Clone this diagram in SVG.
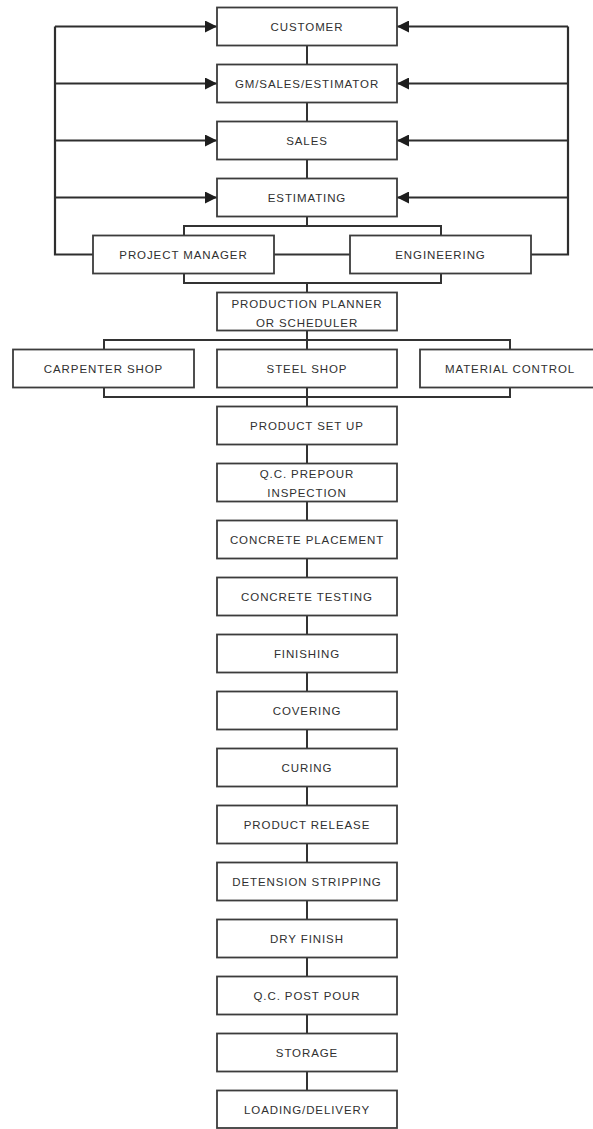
<svg xmlns="http://www.w3.org/2000/svg" width="593" height="1129" viewBox="0 0 593 1129">
  <style>
    .box { fill: #ffffff; stroke: #3c3c3c; stroke-width: 1.8; }
    .lbl { font-family: "Liberation Sans", Arial, sans-serif; font-size: 11.5px; fill: #303030; text-anchor: middle; letter-spacing: 0.9px; }
    .wire { fill: none; stroke: #333333; stroke-width: 2; }
    .feed { fill: none; stroke: #2e2e2e; stroke-width: 2.2; }
  </style>
  <defs>
    <marker id="head" viewBox="0 0 10 10" refX="10" refY="5" markerWidth="13" markerHeight="12" markerUnits="userSpaceOnUse" orient="auto">
      <path d="M0,0 L10,5 L0,10 z" fill="#1e1e1e"/>
    </marker>
  </defs>
  <rect width="593" height="1129" fill="#ffffff"/>

  <!-- connectors -->
  <g id="connectors">
    <!-- feedback loop on the left, from project manager back up the chain -->
    <path class="feed" d="M93,254.5 H55 V26.5"/>
    <path class="feed" d="M55,26.5 H217" marker-end="url(#head)"/>
    <path class="feed" d="M55,83.5 H217" marker-end="url(#head)"/>
    <path class="feed" d="M55,140.5 H217" marker-end="url(#head)"/>
    <path class="feed" d="M55,197.5 H217" marker-end="url(#head)"/>
    <!-- feedback loop on the right, from engineering -->
    <path class="feed" d="M531,254.5 H568 V26.5"/>
    <path class="feed" d="M568,26.5 H397" marker-end="url(#head)"/>
    <path class="feed" d="M568,83.5 H397" marker-end="url(#head)"/>
    <path class="feed" d="M568,140.5 H397" marker-end="url(#head)"/>
    <path class="feed" d="M568,197.5 H397" marker-end="url(#head)"/>
    <!-- project manager to engineering -->
    <path class="wire" d="M274,254.5 H350"/>
    <!-- main spine links -->
    <path class="wire" d="M307,45.5 V64.5 M307,102.5 V121.5 M307,159.5 V178.5"/>
    <!-- estimating splits to project manager / engineering -->
    <path class="wire" d="M307,216.5 V226 M184,235.5 V226 H441 V235.5"/>
    <!-- merge into production planner -->
    <path class="wire" d="M184,273.5 V283 H441 V273.5 M307,283 V292.5"/>
    <!-- production planner splits to the three shops -->
    <path class="wire" d="M307,330.5 V349.5 M104,349.5 V340 H510 V349.5"/>
    <!-- shops merge into product set up -->
    <path class="wire" d="M104,387.5 V397 H510 V387.5 M307,387.5 V406.5"/>
    <path class="wire" d="M307,444.5 V463.5 M307,501.5 V520.5 M307,558.5 V577.5 M307,615.5 V634.5 M307,672.5 V691.5 M307,729.5 V748.5 M307,786.5 V805.5 M307,843.5 V862.5 M307,900.5 V919.5 M307,957.5 V976.5 M307,1014.5 V1033.5 M307,1071.5 V1090.5"/>
  </g>

  <g id="customer"><rect class="box" x="217" y="7.5" width="180" height="38"/><text class="lbl" x="307" y="30.5">CUSTOMER</text></g>
  <g id="gm-sales-estimator"><rect class="box" x="217" y="64.5" width="180" height="38"/><text class="lbl" x="307" y="87.5">GM/SALES/ESTIMATOR</text></g>
  <g id="sales"><rect class="box" x="217" y="121.5" width="180" height="38"/><text class="lbl" x="307" y="144.5">SALES</text></g>
  <g id="estimating"><rect class="box" x="217" y="178.5" width="180" height="38"/><text class="lbl" x="307" y="201.5">ESTIMATING</text></g>
  <g id="project-manager"><rect class="box" x="93" y="235.5" width="181" height="38"/><text class="lbl" x="183.5" y="258.5">PROJECT MANAGER</text></g>
  <g id="engineering"><rect class="box" x="350" y="235.5" width="181" height="38"/><text class="lbl" x="440.5" y="258.5">ENGINEERING</text></g>
  <g id="production-planner"><rect class="box" x="217" y="292.5" width="180" height="38"/><text class="lbl" x="307" y="307.5">PRODUCTION PLANNER</text><text class="lbl" x="307" y="327">OR SCHEDULER</text></g>
  <g id="carpenter-shop"><rect class="box" x="13" y="349.5" width="181" height="38"/><text class="lbl" x="103.5" y="372.5">CARPENTER SHOP</text></g>
  <g id="steel-shop"><rect class="box" x="217" y="349.5" width="180" height="38"/><text class="lbl" x="307" y="372.5">STEEL SHOP</text></g>
  <g id="material-control"><rect class="box" x="420" y="349.5" width="180" height="38"/><text class="lbl" x="510" y="372.5">MATERIAL CONTROL</text></g>
  <g id="product-set-up"><rect class="box" x="217" y="406.5" width="180" height="38"/><text class="lbl" x="307" y="429.5">PRODUCT SET UP</text></g>
  <g id="qc-prepour"><rect class="box" x="217" y="463.5" width="180" height="38"/><text class="lbl" x="307" y="478">Q.C. PREPOUR</text><text class="lbl" x="307" y="497">INSPECTION</text></g>
  <g id="concrete-placement"><rect class="box" x="217" y="520.5" width="180" height="38"/><text class="lbl" x="307" y="543.5">CONCRETE PLACEMENT</text></g>
  <g id="concrete-testing"><rect class="box" x="217" y="577.5" width="180" height="38"/><text class="lbl" x="307" y="600.5">CONCRETE TESTING</text></g>
  <g id="finishing"><rect class="box" x="217" y="634.5" width="180" height="38"/><text class="lbl" x="307" y="657.5">FINISHING</text></g>
  <g id="covering"><rect class="box" x="217" y="691.5" width="180" height="38"/><text class="lbl" x="307" y="714.5">COVERING</text></g>
  <g id="curing"><rect class="box" x="217" y="748.5" width="180" height="38"/><text class="lbl" x="307" y="771.5">CURING</text></g>
  <g id="product-release"><rect class="box" x="217" y="805.5" width="180" height="38"/><text class="lbl" x="307" y="828.5">PRODUCT RELEASE</text></g>
  <g id="detension-stripping"><rect class="box" x="217" y="862.5" width="180" height="38"/><text class="lbl" x="307" y="885.5">DETENSION STRIPPING</text></g>
  <g id="dry-finish"><rect class="box" x="217" y="919.5" width="180" height="38"/><text class="lbl" x="307" y="942.5">DRY FINISH</text></g>
  <g id="qc-post-pour"><rect class="box" x="217" y="976.5" width="180" height="38"/><text class="lbl" x="307" y="999.5">Q.C. POST POUR</text></g>
  <g id="storage"><rect class="box" x="217" y="1033.5" width="180" height="38"/><text class="lbl" x="307" y="1056.5">STORAGE</text></g>
  <g id="loading-delivery"><rect class="box" x="217" y="1090.5" width="180" height="37.5"/><text class="lbl" x="307" y="1113.5">LOADING/DELIVERY</text></g>
</svg>
